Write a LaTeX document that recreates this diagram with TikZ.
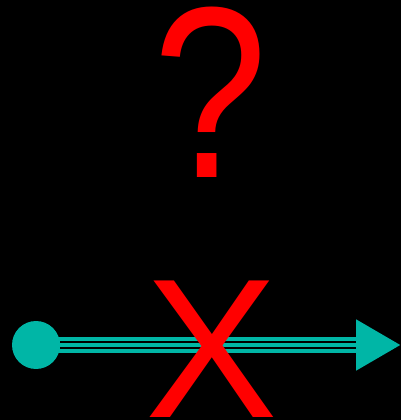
\documentclass[tikz,border=0pt]{standalone}
\usepackage{fontspec}
\setmainfont{Liberation Sans}
\usetikzlibrary{arrows.meta}

\definecolor{wireteal}{RGB}{0,182,166}

\begin{document}
\begin{tikzpicture}[
  x=0.02cm, y=-0.02cm,
  dot/.style={circle, fill=wireteal, inner sep=0pt, minimum size=0.96cm},
  wire/.style={wireteal, line width=9.07pt},
  gap/.style={black, line width=1.13pt, double=wireteal, double distance=2.83pt},
  tip/.style={-{Triangle[length=25.5pt, width=27.2pt]}},
  glyph/.style={red, inner sep=0pt, anchor=base},
]
  %% ── background (fixes the page size) ──
  \fill[black] (0,0) rectangle (401,420);

  %% ── question mark ──
  \node[glyph, xscale=0.84, font=\fontsize{139}{139}\selectfont] (query) at (211, 177) {?};

  %% ── connector: dot -> arrow ──
  \node[dot] (src) at (36, 345) {};
  \coordinate (dst) at (401, 345);
  \coordinate (dstbase) at (356, 345);
  \draw[wire, tip] (src.center) -- (dst);
  \draw[gap] (src.east) -- (dstbase);

  %% ── cross over the connector ──
  \node[glyph, font=\fontsize{113}{113}\selectfont] (cross) at (211.5, 417) {X};
\end{tikzpicture}
\end{document}
